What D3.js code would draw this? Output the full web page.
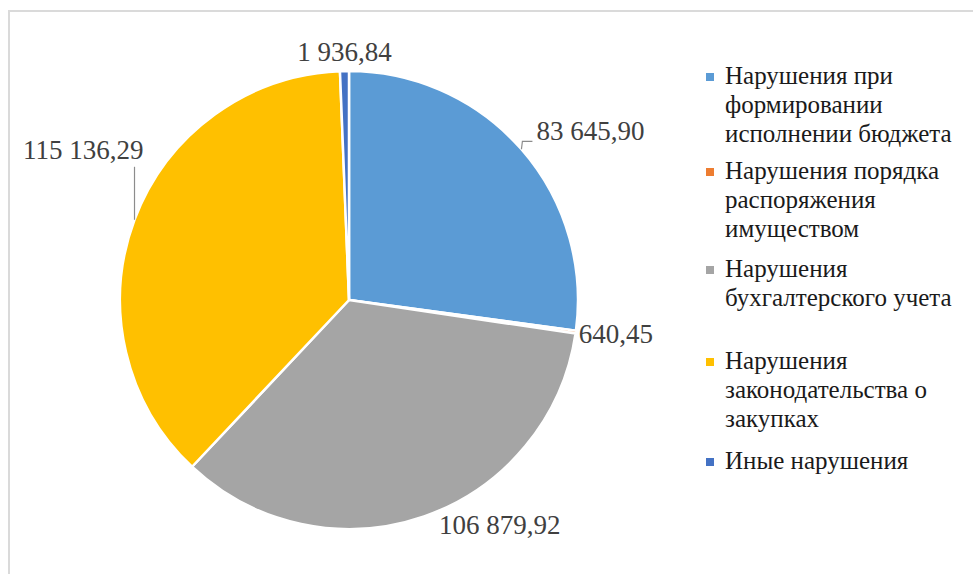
<!DOCTYPE html>
<html>
<head>
<meta charset="utf-8">
<script src="https://cdn.jsdelivr.net/npm/d3@7"></script>
<style>
  body { margin: 0; background: #ffffff; }
  svg { display: block; }
</style>
</head>
<body>
<div id="chart"></div>
<script>
// slice data, clockwise from 12 o'clock
const categories = [
  ['Нарушения при', 'формировании', 'исполнении бюджета'],
  ['Нарушения порядка', 'распоряжения', 'имуществом'],
  ['Нарушения', 'бухгалтерского учета'],
  ['Нарушения', 'законодательства о', 'закупках'],
  ['Иные нарушения'],
];
const values = [83645.90, 640.45, 106879.92, 115136.29, 1936.84];
const valueLabels = ['83 645,90', '640,45', '106 879,92', '115 136,29', '1 936,84'];
const colors = ['#5b9bd5', '#ed7d31', '#a5a5a5', '#ffc000', '#4472c4'];

const width = 973, height = 574;
const cx = 349, cy = 300, radius = 229;

const svg = d3.select('#chart').append('svg')
  .attr('width', width)
  .attr('height', height);

// frame (cropped on the right and bottom in the original)
svg.append('line').attr('x1', 8).attr('y1', 11).attr('x2', width).attr('y2', 11)
  .attr('stroke', '#dadada').attr('stroke-width', 2);
svg.append('line').attr('x1', 9).attr('y1', 11).attr('x2', 9).attr('y2', height)
  .attr('stroke', '#dadada').attr('stroke-width', 2);

const pie = d3.pie().sort(null).value(d => d);
const arcs = pie(values);
const arc = d3.arc().innerRadius(0).outerRadius(radius);
const edge = d3.arc().innerRadius(radius).outerRadius(radius);

const g = svg.append('g').attr('transform', `translate(${cx},${cy})`);

g.selectAll('path.slice')
  .data(arcs)
  .enter()
  .append('path')
  .attr('class', 'slice')
  .attr('d', arc)
  .attr('fill', (d, i) => colors[i])
  .attr('stroke', '#ffffff')
  .attr('stroke-width', 2.5)
  .attr('stroke-linejoin', 'round');

// label placement relative to the point on the rim at mid angle
const labelPos = [
  { anchor: 'start', dx: 15, dy: -9, leader: [[1, -8], [11, -8]] },
  { anchor: 'start', dx: 3, dy: 11 },
  { anchor: 'start', dx: 15, dy: 18 },
  { anchor: 'end', dx: 9, dy: -61, leader: [[0, -53]] },
  { anchor: 'middle', dx: 0, dy: -10 },
];

arcs.forEach((d, i) => {
  let p = edge.centroid(d);
  let cfg = labelPos[i];
  if (cfg.leader) {
    let pts = [p].concat(cfg.leader.map(o => [p[0] + o[0], p[1] + o[1]]));
    g.append('path')
      .attr('d', d3.line()(pts))
      .attr('fill', 'none')
      .attr('stroke', '#8c8c8c')
      .attr('stroke-width', 1.2);
  }
  g.append('text')
    .attr('x', p[0] + cfg.dx)
    .attr('y', p[1] + cfg.dy)
    .attr('text-anchor', cfg.anchor)
    .attr('font-family', 'Liberation Serif')
    .attr('font-size', 27)
    .attr('fill', '#404040')
    .text(valueLabels[i]);
});

// legend
const legendTop = [84, 179, 277, 369, 469];
const lineH = 29;
const legend = svg.append('g');
categories.forEach((lines, i) => {
  legend.append('rect')
    .attr('x', 706)
    .attr('y', legendTop[i] - 11)
    .attr('width', 8)
    .attr('height', 8)
    .attr('fill', colors[i]);
  let t = legend.append('text')
    .attr('x', 725)
    .attr('y', legendTop[i])
    .attr('font-family', 'Liberation Serif')
    .attr('font-size', 25)
    .attr('fill', '#1a1a1a');
  lines.forEach((s, k) => {
    t.append('tspan')
      .attr('x', 725)
      .attr('dy', k === 0 ? 0 : lineH)
      .text(s);
  });
});
</script>
</body>
</html>
